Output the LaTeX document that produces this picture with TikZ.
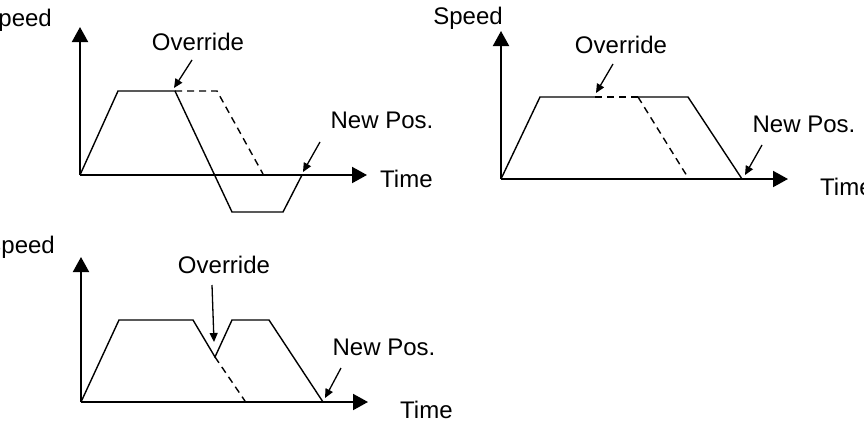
\documentclass[tikz,border=0pt]{standalone}
\usepackage{fontspec}
\setmainfont{Liberation Sans}
\usetikzlibrary{arrows.meta}

\begin{document}
\begin{tikzpicture}[
    x=1pt, y=-1pt,
    axis/.style={line width=2pt, -{Triangle[length=15pt, width=16pt]}},
    profile/.style={line width=1.4pt, line join=miter},
    dashprofile/.style={line width=1.4pt, dash pattern=on 7pt off 5pt},
    callout/.style={line width=1.3pt, -{Triangle[length=9pt, width=8pt]}},
    lbl/.style={inner sep=0pt, font=\fontsize{24}{28}\selectfont},
]
    \useasboundingbox (0,0) rectangle (864,423);

    % top left: move reversed
    \coordinate (o1) at (80,175);
    \coordinate (ytip1) at (80,27);
    \coordinate (xtip1) at (367,175);
    \draw[axis] (o1) -- (ytip1);
    \draw[axis] (o1) -- (xtip1);
    \node[lbl, anchor=base east] (speed1) at (52,27) {Speed};
    \node[lbl, anchor=base west] (time1) at (380,187) {Time};
    \draw[profile] (o1) -- (118,91) coordinate (a1) -- (175,91) coordinate (b1)
        -- (232,212) -- (283,212) -- (302,175) coordinate (e1);
    \draw[dashprofile] (b1) -- (217,91) -- (263,174);
    \node[lbl, anchor=base] (ovr1) at (198,50) {Override};
    \coordinate (ovr1tail) at (192,60);
    \coordinate (ovr1tip) at (174,88);
    \draw[callout] (ovr1tail) -- (ovr1tip);
    \node[lbl, anchor=base] (pos1) at (382,128) {New Pos.};
    \coordinate (pos1tail) at (320,142);
    \coordinate (pos1tip) at (303,172);
    \draw[callout] (pos1tail) -- (pos1tip);

    % top right: move extended
    \coordinate (o2) at (501,179);
    \coordinate (ytip2) at (501,31);
    \coordinate (xtip2) at (788,179);
    \draw[axis] (o2) -- (ytip2);
    \draw[axis] (o2) -- (xtip2);
    \node[lbl, anchor=base] (speed2) at (468,24) {Speed};
    \node[lbl, anchor=base west] (time2) at (820,195) {Time};
    \draw[profile] (o2) -- (540,97) -- (595,97) coordinate (b2);
    \draw[dashprofile] (b2) -- (638,97) coordinate (c2);
    \draw[profile] (c2) -- (688,97) -- (742,179) coordinate (e2);
    \draw[dashprofile] (c2) -- (687,176);
    \node[lbl, anchor=base] (ovr2) at (621,53) {Override};
    \coordinate (ovr2tail) at (613,64);
    \coordinate (ovr2tip) at (596,93);
    \draw[callout] (ovr2tail) -- (ovr2tip);
    \node[lbl, anchor=base] (pos2) at (804,132) {New Pos.};
    \coordinate (pos2tail) at (762,145);
    \coordinate (pos2tip) at (745,175);
    \draw[callout] (pos2tail) -- (pos2tip);

    % bottom left: override during deceleration
    \coordinate (o3) at (81,402);
    \coordinate (ytip3) at (81,257);
    \coordinate (xtip3) at (368,402);
    \draw[axis] (o3) -- (ytip3);
    \draw[axis] (o3) -- (xtip3);
    \node[lbl, anchor=base east] (speed3) at (55,253) {Speed};
    \node[lbl, anchor=base west] (time3) at (400,418) {Time};
    \draw[profile] (o3) -- (119,320) -- (193,320) -- (215,357) coordinate (d3)
        -- (232,320) -- (269,320) -- (323,402) coordinate (e3);
    \draw[dashprofile] (d3) -- (245,401);
    \node[lbl, anchor=base] (ovr3) at (224,273) {Override};
    \coordinate (ovr3tail) at (212,285);
    \coordinate (ovr3tip) at (214,342);
    \draw[callout] (ovr3tail) -- (ovr3tip);
    \node[lbl, anchor=base] (pos3) at (384,355) {New Pos.};
    \coordinate (pos3tail) at (341,368);
    \coordinate (pos3tip) at (325,398);
    \draw[callout] (pos3tail) -- (pos3tip);
\end{tikzpicture}
\end{document}
